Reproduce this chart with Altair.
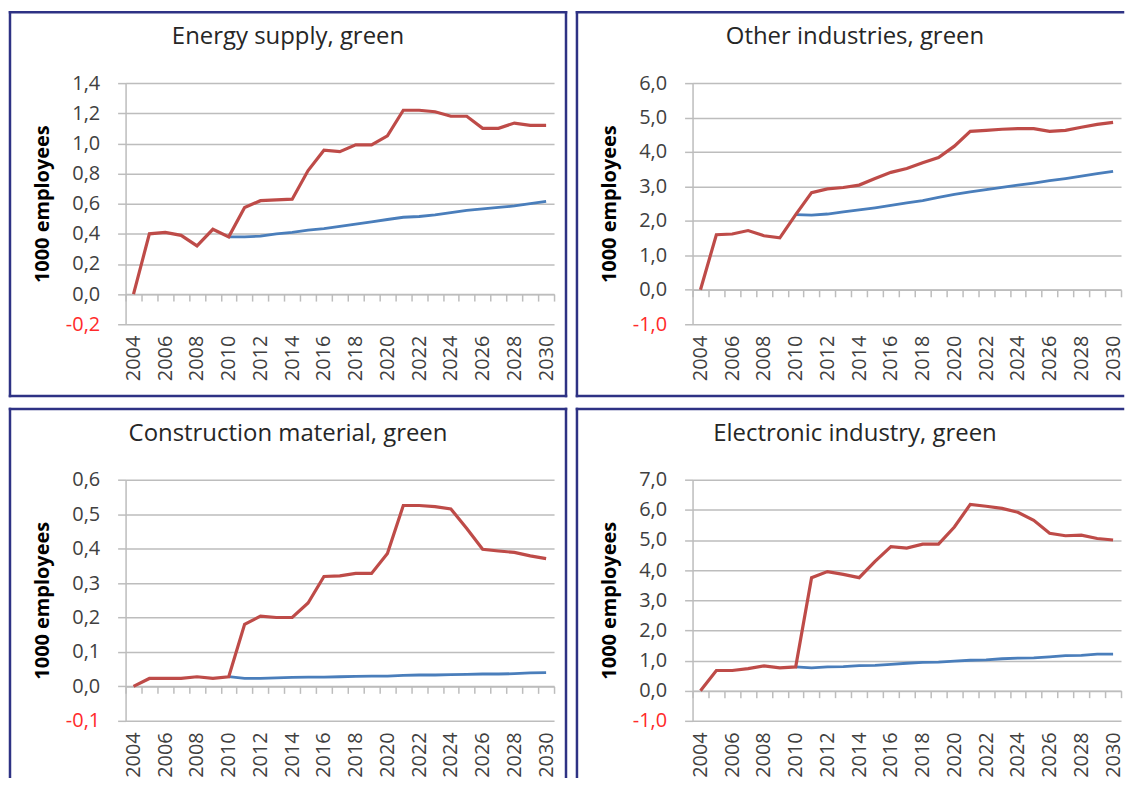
import altair as alt
import pandas as pd

YEARS = list(range(2004, 2031))
BLUE_YEARS = list(range(2010, 2031))

TITLES = [
    "Energy supply, green",
    "Other industries, green",
    "Construction material, green",
    "Electronic industry, green",
]
Y_TITLE = "1000 employees"

ENERGY_RED = [0.00, 0.40, 0.41, 0.39, 0.32, 0.43, 0.38, 0.575, 0.62, 0.625, 0.63, 0.82, 0.955, 0.945,
              0.99, 0.99, 1.05, 1.22, 1.22, 1.21, 1.18, 1.18, 1.10, 1.10, 1.135, 1.12, 1.12]
ENERGY_BLUE = [0.38, 0.38, 0.385, 0.40, 0.41, 0.425, 0.435, 0.45, 0.465, 0.48, 0.495, 0.51, 0.515,
               0.525, 0.54, 0.555, 0.565, 0.575, 0.585, 0.60, 0.615]
ENERGY_TICKS = [-0.2, 0.0, 0.2, 0.4, 0.6, 0.8, 1.0, 1.2, 1.4]

OTHER_RED = [0.0, 1.60, 1.62, 1.72, 1.57, 1.51, 2.18, 2.82, 2.93, 2.97, 3.04, 3.23, 3.41, 3.52,
             3.69, 3.84, 4.17, 4.60, 4.63, 4.66, 4.68, 4.68, 4.60, 4.63, 4.72, 4.80, 4.86]
OTHER_BLUE = [2.18, 2.17, 2.20, 2.26, 2.32, 2.38, 2.45, 2.52, 2.59, 2.68, 2.77, 2.84, 2.91, 2.97,
              3.04, 3.10, 3.17, 3.23, 3.30, 3.37, 3.44]
OTHER_TICKS = [-1.0, 0.0, 1.0, 2.0, 3.0, 4.0, 5.0, 6.0]

CONSTR_RED = [0.0, 0.023, 0.023, 0.023, 0.028, 0.023, 0.028, 0.18, 0.204, 0.20, 0.20, 0.242, 0.319,
              0.321, 0.328, 0.328, 0.386, 0.525, 0.525, 0.522, 0.515, 0.458, 0.398, 0.393, 0.389,
              0.379, 0.371]
CONSTR_BLUE = [0.028, 0.023, 0.023, 0.025, 0.026, 0.027, 0.027, 0.028, 0.029, 0.030, 0.030, 0.032,
               0.033, 0.033, 0.034, 0.035, 0.036, 0.036, 0.037, 0.039, 0.040]
CONSTR_TICKS = [-0.1, 0.0, 0.1, 0.2, 0.3, 0.4, 0.5, 0.6]

ELEC_RED = [0.0, 0.67, 0.67, 0.73, 0.82, 0.76, 0.79, 3.75, 3.95, 3.86, 3.75, 4.29, 4.78, 4.73,
            4.86, 4.86, 5.43, 6.18, 6.12, 6.05, 5.92, 5.65, 5.22, 5.14, 5.16, 5.05, 5.00]
ELEC_BLUE = [0.79, 0.76, 0.79, 0.80, 0.83, 0.84, 0.87, 0.91, 0.94, 0.95, 0.98, 1.01, 1.02, 1.06,
             1.08, 1.09, 1.12, 1.16, 1.17, 1.21, 1.21]
ELEC_TICKS = [-1.0, 0.0, 1.0, 2.0, 3.0, 4.0, 5.0, 6.0, 7.0]

W, H = 430, 242
GRID = "#BDBDBD"
TXT = "#404040"
NAVY = "#2E3284"
RED = "#BE4B48"
BLUE = "#4A7EBB"
NEG = "#FF2A2A"
FONT = "Open Sans"

ONE = alt.Data(values=[{"k": 1}])


def rule(**enc):
    return alt.Chart(ONE).mark_rule(color=NAVY, strokeWidth=2.5, strokeCap="square").encode(**enc)


def panel(title, red, blue, ticks, right_col, bottom_row):
    ymin, ymax = ticks[0], ticks[-1]
    zero_off = H * (0 - ymin) / (ymax - ymin)
    red_df = pd.DataFrame({"year": YEARS, "value": red})
    blue_df = pd.DataFrame({"year": BLUE_YEARS, "value": blue})

    xscale = alt.Scale(type="band", domain=YEARS, paddingInner=0, paddingOuter=0)
    yscale = alt.Scale(domain=[ymin, ymax], nice=False, zero=False)

    xaxis = alt.Axis(
        orient="bottom", offset=-zero_off, tickBand="extent", ticks=True, tickSize=7,
        tickColor=GRID, tickWidth=1.5, domain=True, domainColor=GRID, domainWidth=1.5,
        grid=False, labelAngle=270, labelAlign="right", labelBaseline="middle",
        labelExpr="datum.value % 2 == 0 ? datum.label : ''", labelOverlap=False,
        labelPadding=zero_off + 4, labelFont=FONT, labelFontSize=20, labelColor=TXT,
    )
    yaxis = alt.Axis(
        values=ticks, grid=True, gridColor=GRID, gridWidth=1.5, domain=True,
        domainColor=GRID, domainWidth=1.5, ticks=True, tickSize=8, tickColor=GRID,
        tickWidth=1.5,
        labelExpr="replace(replace(format(datum.value, '.1f'), '.', ','), '\u2212', '-')",
        labelColor={"condition": {"test": "datum.value < 0", "value": NEG}, "value": TXT},
        labelFont=FONT, labelFontSize=20, labelPadding=18,
        title=Y_TITLE, titleFont=FONT, titleFontSize=20, titleFontWeight="bold",
        titleColor="black", titlePadding=13,
    )

    x_enc = alt.X("year:O", scale=xscale, axis=xaxis, title=None)
    y_enc = alt.Y("value:Q", scale=yscale, axis=yaxis)

    blue_line = alt.Chart(blue_df).mark_line(color=BLUE, strokeWidth=2.8).encode(x=x_enc, y=y_enc)
    red_line = alt.Chart(red_df).mark_line(color=RED, strokeWidth=3.2).encode(x=x_enc, y=y_enc)

    left, top = -116, -71
    right = W + 2 if right_col else W + 12
    bottom = H + 56 if bottom_row else H + 72
    layers = [
        rule(x=alt.value(left), x2=alt.value(right), y=alt.value(top)),
        rule(x=alt.value(left), y=alt.value(top), y2=alt.value(bottom)),
    ]
    if not right_col:
        layers.append(rule(x=alt.value(right), y=alt.value(top), y2=alt.value(bottom)))
    if not bottom_row:
        layers.append(rule(x=alt.value(left), x2=alt.value(right), y=alt.value(bottom)))

    title_mark = alt.Chart(ONE).mark_text(
        font=FONT, fontSize=24, color="#262626", align="center", baseline="middle"
    ).encode(x=alt.value(163), y=alt.value(-46), text=alt.value(title))

    layers += [title_mark, blue_line, red_line]
    return alt.layer(*layers).properties(width=W, height=H)


p1 = panel(TITLES[0], ENERGY_RED, ENERGY_BLUE, ENERGY_TICKS, False, False)
p2 = panel(TITLES[1], OTHER_RED, OTHER_BLUE, OTHER_TICKS, True, False)
p3 = panel(TITLES[2], CONSTR_RED, CONSTR_BLUE, CONSTR_TICKS, False, True)
p4 = panel(TITLES[3], ELEC_RED, ELEC_BLUE, ELEC_TICKS, True, True)

row1 = alt.hconcat(p1, p2, spacing=7).resolve_scale(x="independent", y="independent")
row2 = alt.hconcat(p3, p4, spacing=7).resolve_scale(x="independent", y="independent")

chart = alt.vconcat(row1, row2, spacing=9).resolve_scale(
    x="independent", y="independent"
).properties(
    padding={"left": 0, "top": 1, "right": 0, "bottom": 0},
    background="white",
).configure_view(stroke=None)

chart.save("out.html", embed_options={"renderer": "svg", "actions": False})
